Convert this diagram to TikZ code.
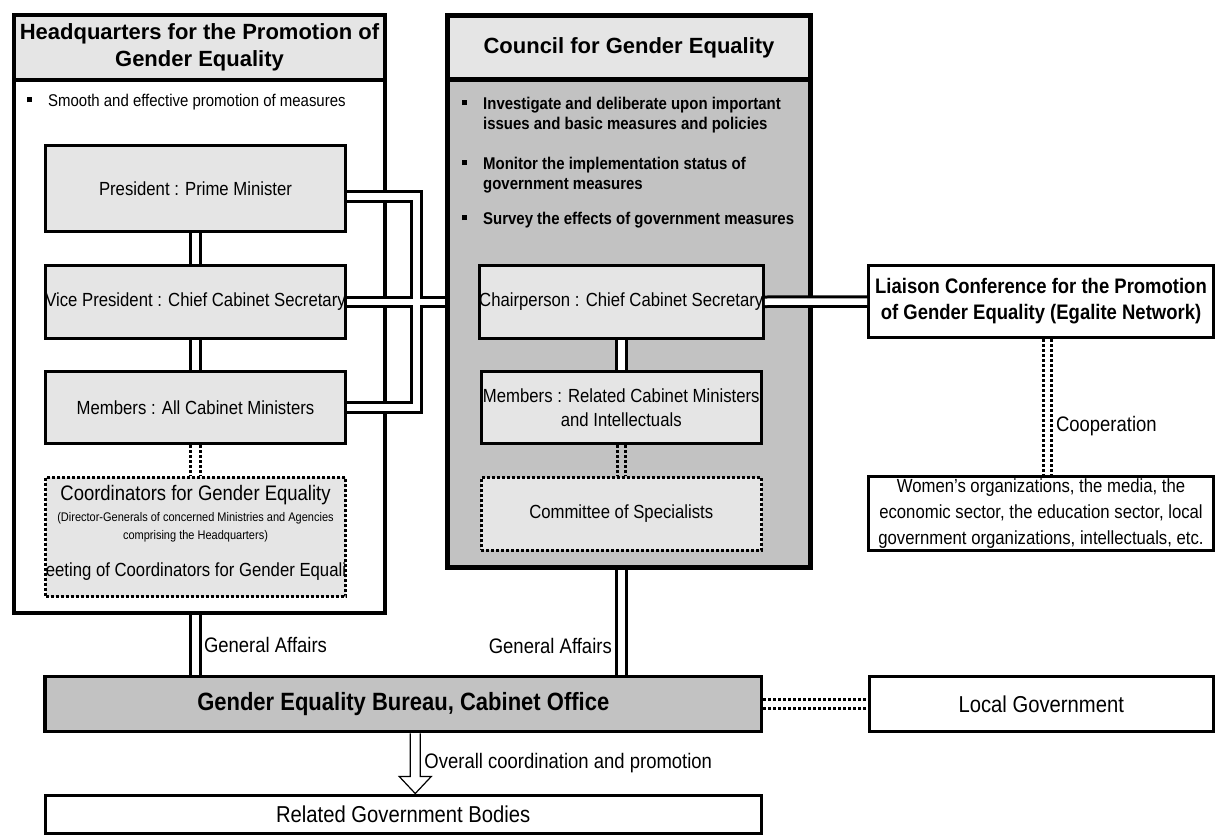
\documentclass[tikz,border=0pt]{standalone}
\usepackage{fontspec}
\setmainfont{Liberation Sans}[FakeStretch=0.88]
\newfontfamily\headfont{Liberation Sans}
\usepackage{tikz}
\usetikzlibrary{calc}
\definecolor{dotlight}{gray}{0.9}
\definecolor{dotdark}{gray}{0.76}
\newcommand{\fsz}[2]{\fontsize{#1}{#2}\selectfont}
\newcommand{\sqb}{\rule[4pt]{5pt}{5pt}}

\begin{document}
\begin{tikzpicture}[x=1pt, y=-1pt,
  box/.style={draw, line width=3pt, fill=dotlight, inner sep=0pt, align=center, font=\fsz{19}{24}},
  dotbox/.style={box, dash pattern=on 3pt off 2pt},
  outer/.style={draw, line width=4.5pt, inner sep=0pt},
  head/.style={outer, fill=dotlight, align=center, font=\headfont\bfseries\fsz{22}{27}},
  plain/.style={draw, line width=3pt, fill=white, inner sep=0pt, align=center},
  dbl/.style={draw, line width=3pt, double=white, double distance=6.5pt},
  dotline/.style={draw, line width=3pt, dash pattern=on 3pt off 2pt},
  lbl/.style={inner sep=0pt, font=\fsz{21}{25}}
]
\useasboundingbox (0,0) rectangle (1216,836);

% Headquarters
\node[outer, fill=white, minimum width=371pt, minimum height=598pt] (hq) at (199.5,314) {};
\node[head, anchor=north, minimum width=371pt, minimum height=65pt] (hqhead) at (hq.north) {Headquarters for the Promotion of\\Gender Equality};
\node[anchor=west, inner sep=0pt, font=\fsz{17}{20}] (hqbul) at (27,102) {\makebox[21pt][l]{\sqb}Smooth and effective promotion of measures};
\node[box, minimum width=300pt, minimum height=86.5pt] (pres) at (195.5,188.25) {President : Prime Minister};
\node[box, minimum width=300pt, minimum height=73.5pt] (vp) at (195.5,301.75) {Vice President : Chief Cabinet Secretary};
\node[box, minimum width=300pt, minimum height=72.5pt] (membhq) at (195.5,407.25) {Members : All Cabinet Ministers};
\node[dotbox, minimum width=300pt, minimum height=119.5pt] (coord) at (195.5,536.75) {};
\node[lbl] (coordt) at (195.5,495) {Coordinators for Gender Equality};
\node[inner sep=0pt, align=center, font=\fsz{12.5}{18}] (coordsub) at (195.5,527) {(Director-Generals of concerned Ministries and Agencies\\comprising the Headquarters)};
\begin{scope}
  \clip (46.5,555) rectangle (344.5,592);
  \node[lbl, font=\fsz{19}{24}] (coordmeet) at (195.5,572) {Meeting of Coordinators for Gender Equality};
\end{scope}

% Council
\node[outer, fill=dotdark, minimum width=363pt, minimum height=552pt] (council) at (629,291.5) {};
\node[head, anchor=north, minimum width=363pt, minimum height=64pt] (cghead) at (council.north) {Council for Gender Equality};
\node[anchor=north west, inner sep=0pt, font=\bfseries\fsz{17}{20}] (cgbul) at (462,95) {%
  \begin{tabular}{@{}p{21pt}@{}l@{}}
  \sqb & Investigate and deliberate upon important\\
       & issues and basic measures and policies\\[20pt]
  \sqb & Monitor the implementation status of\\
       & government measures\\[15pt]
  \sqb & Survey the effects of government measures
  \end{tabular}};
\node[box, minimum width=280.5pt, minimum height=73.5pt] (chair) at (621.25,301.75) {Chairperson : Chief Cabinet Secretary};
\node[box, minimum width=280.5pt, minimum height=72.5pt] (membc) at (621.25,407.25) {Members : Related Cabinet Ministers\\and Intellectuals};
\node[dotbox, minimum width=280.5pt, minimum height=72.5pt] (comm) at (621.25,513.75) {Committee of Specialists};

% right side
\node[plain, minimum width=345pt, minimum height=72pt, font=\bfseries\fsz{21}{26}] (liaison) at (1041,301.5) {Liaison Conference for the Promotion\\of Gender Equality (Egalite Network)};
\node[plain, minimum width=345pt, minimum height=73.5pt, font=\fsz{19}{26}] (women) at (1041,513.25) {Women's organizations, the media, the\\economic sector, the education sector, local\\government organizations, intellectuals, etc.};

% bottom
\node[box, line width=3.5pt, fill=dotdark, minimum width=716.5pt, minimum height=55pt, font=\bfseries\fsz{25}{30}] (bureau) at (403.25,704) {Gender Equality Bureau, Cabinet Office};
\node[plain, minimum width=344.5pt, minimum height=55pt, font=\fsz{23}{28}] (local) at (1041.25,704) {Local Government};
\node[plain, minimum width=716.5pt, minimum height=38.5pt, font=\fsz{23}{28}] (related) at (403.25,814.25) {Related Government Bodies};

% connectors
\draw[dbl] (pres.south) -- (vp.north);
\draw[dbl] (vp.south) -- (membhq.north);
\foreach \s in {-5,5}
  \draw[dotline] ([xshift=\s pt]membhq.south) -- ([xshift=\s pt]coord.north);
\draw[dbl] ([yshift=-8pt]pres.east) -| (416.5,302) |- (membhq.east)
           (vp.east) -- (vp.east -| council.west);
\draw[dbl] (chair.south) -- (membc.north);
\foreach \s in {-4,4}
  \draw[dotline] ([xshift=\s pt]membc.south) -- ([xshift=\s pt]comm.north);
\draw[dbl] (chair.east) -- (liaison.west);
\draw[dotline] ([xshift=2.5pt]liaison.south) -- ([xshift=2.5pt]women.north);
\draw[dotline] ([xshift=10.5pt]liaison.south) -- node[lbl, pos=0.64, anchor=west, xshift=3pt] (coop) {Cooperation} ([xshift=10.5pt]women.north);
\draw[dbl] (hq.south -| coord.south) -- node[lbl, anchor=west, xshift=7pt] (ga1) {General Affairs} (bureau.north -| coord.south);
\draw[dbl] (council.south -| comm.south) -- node[lbl, pos=0.73, anchor=east, xshift=-8pt] (ga2) {General Affairs} (bureau.north -| comm.south);
\foreach \s in {-4.75,4.75}
  \draw[dotline] ([yshift=\s pt]bureau.east) -- ([yshift=\s pt]local.west);

% hollow arrow
\coordinate (arrtop) at ([xshift=12pt]bureau.south);
\coordinate (arrtip) at (related.north -| arrtop);
\draw[line width=1.2pt, fill=white] ([xshift=-5pt]arrtop) -- ([xshift=-5pt,yshift=17pt]arrtip)
  -- ([xshift=-16pt,yshift=17pt]arrtip) -- (arrtip) -- ([xshift=16pt,yshift=17pt]arrtip)
  -- ([xshift=5pt,yshift=17pt]arrtip) -- ([xshift=5pt]arrtop);
\node[lbl, anchor=west] (overall) at ($(arrtop)!0.5!(arrtip)+(9,0)$) {Overall coordination and promotion};
\end{tikzpicture}
\end{document}
